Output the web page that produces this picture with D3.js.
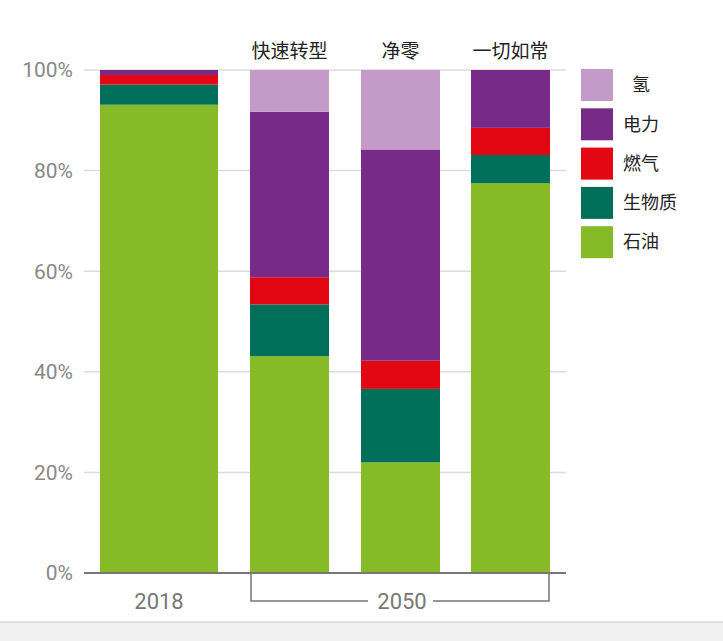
<!DOCTYPE html>
<html>
<head>
<meta charset="utf-8">
<script src="https://cdn.jsdelivr.net/npm/d3@7"></script>
<style>
	body { margin: 0; background: #fff; }
	svg { display: block; }
</style>
</head>
<body>
<div id="chart"></div>
<script>
const categories	= ['2018', '快速转型', '净零', '一切如常'];
const seriesNames	= ['石油', '生物质', '燃气', '电力', '氢'];
const seriesColors	= ['#86bb27', '#006f5a', '#e30613', '#772a87', '#c49ac8'];

// percent of each category, same order as seriesNames
const oil			= [93.1, 43.1, 22.0, 77.5];
const biomass		= [4.0, 10.3, 14.6, 5.6];
const gas			= [1.9, 5.4, 5.6, 5.4];
const electricity	= [1.0, 32.9, 42.0, 11.5];
const hydrogen		= [0.0, 8.3, 15.8, 0.0];

const yTicks		= [0, 20, 40, 60, 80, 100];

const width		= 723;
const height	= 641;

let rows = categories.map((c, i) => ({
	cat: c,
	'石油': oil[i], '生物质': biomass[i], '燃气': gas[i], '电力': electricity[i], '氢': hydrogen[i]
}));

let stacked = d3.stack().keys(seriesNames)(rows);

let svg = d3.select('#chart').append('svg')
	.attr('width', width)
	.attr('height', height);

let y = d3.scaleLinear().domain([0, 100]).range([573, 70]);

// bar edges differ: 2018 is wider than the 2050 scenarios
let barX	= d3.scaleOrdinal().domain(categories).range([100, 250, 361, 471]);
let barW	= d3.scaleOrdinal().domain(categories).range([118, 79, 79, 79]);

let numFont	= 'Roboto, "Liberation Sans", sans-serif';
let cjkFont	= '"Noto Sans CJK SC", sans-serif';

// grid
svg.append('g')
	.selectAll('line')
	.data(yTicks.slice(1))
	.enter().append('line')
		.attr('x1', 84).attr('x2', 566)
		.attr('y1', (d) => y(d)).attr('y2', (d) => y(d))
		.attr('stroke', '#dcdcdc')
		.attr('stroke-width', 1.5);

// y labels
svg.append('g')
	.selectAll('text')
	.data(yTicks)
	.enter().append('text')
		.attr('x', 73)
		.attr('y', (d) => y(d))
		.attr('dy', '0.35em')
		.attr('text-anchor', 'end')
		.attr('fill', '#888')
		.attr('font-family', numFont)
		.attr('font-size', 21)
		.text((d) => d + '%');

// bars
svg.append('g')
	.selectAll('g')
	.data(stacked)
	.enter().append('g')
		.attr('fill', (d, i) => seriesColors[i])
		.selectAll('rect')
		.data((d) => d)
		.enter().append('rect')
			.attr('x', (d) => barX(d.data.cat))
			.attr('width', (d) => barW(d.data.cat))
			.attr('y', (d) => y(d[1]))
			.attr('height', (d) => y(d[0]) - y(d[1]));

// baseline
svg.append('line')
	.attr('x1', 84).attr('x2', 566)
	.attr('y1', y(0)).attr('y2', y(0))
	.attr('stroke', '#777')
	.attr('stroke-width', 2);

// scenario labels above bars
svg.append('g')
	.selectAll('text')
	.data(categories.slice(1))
	.enter().append('text')
		.attr('x', (d) => barX(d) + barW(d) / 2)
		.attr('y', 58)
		.attr('text-anchor', 'middle')
		.attr('fill', '#222')
		.attr('font-family', cjkFont)
		.attr('font-size', 19)
		.text((d) => d);

// x labels
svg.append('text')
	.attr('x', barX('2018') + barW('2018') / 2)
	.attr('y', 601).attr('dy', '0.35em')
	.attr('text-anchor', 'middle')
	.attr('fill', '#777')
	.attr('font-family', numFont)
	.attr('font-size', 22)
	.text('2018');

let bL = barX('快速转型') + 1;
let bR = barX('一切如常') + barW('一切如常') - 1;
svg.append('path')
	.attr('d', `M${bL},${y(0)} V601 H368 M433,601 H${bR} V${y(0)}`)
	.attr('fill', 'none')
	.attr('stroke', '#777')
	.attr('stroke-width', 1.5);

svg.append('text')
	.attr('x', 402)
	.attr('y', 601).attr('dy', '0.35em')
	.attr('text-anchor', 'middle')
	.attr('fill', '#777')
	.attr('font-family', numFont)
	.attr('font-size', 22)
	.text('2050');

// legend, top item is hydrogen
let legend = svg.append('g')
	.selectAll('g')
	.data(seriesNames.slice().reverse())
	.enter().append('g')
		.attr('transform', (d, i) => 'translate(581,' + (69 + i * 39.3) + ')');

legend.append('rect')
	.attr('width', 32).attr('height', 32)
	.attr('fill', (d) => seriesColors[seriesNames.indexOf(d)]);

legend.append('text')
	.attr('x', (d) => d.length == 1 ? 51 : 42)
	.attr('y', 16).attr('dy', '0.35em')
	.attr('fill', '#222')
	.attr('font-family', cjkFont)
	.attr('font-size', 18)
	.text((d) => d);

// browser strip along the bottom
svg.append('rect')
	.attr('x', 0).attr('y', 622)
	.attr('width', width).attr('height', height - 622)
	.attr('fill', '#f0f0f0');
svg.append('line')
	.attr('x1', 0).attr('x2', width)
	.attr('y1', 622).attr('y2', 622)
	.attr('stroke', '#c8c8c8');
</script>
</body>
</html>
